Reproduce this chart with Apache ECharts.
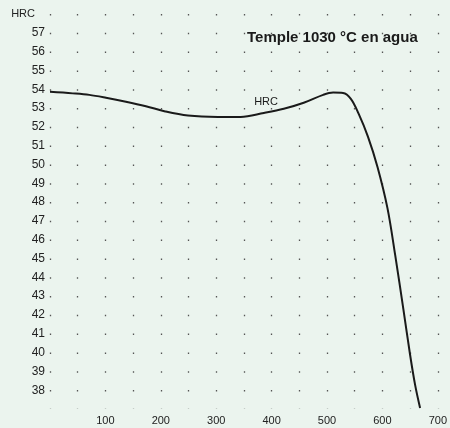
<!DOCTYPE html>
<html>
<head>
<meta charset="utf-8">
<script src="https://cdn.jsdelivr.net/npm/echarts@6/dist/echarts.min.js"></script>
<style>
html,body{margin:0;padding:0;background:#ebf4ee;}
#c{width:450px;height:428px;}
</style>
</head>
<body>
<div id="c"></div>
<script>
// Tempering temperature (°C) and hardness (HRC)
var temperatures = [0, 41, 71, 101, 137, 173, 208, 249, 303, 344, 386, 422, 458, 493, 511, 529, 543, 557, 574, 591, 609, 623, 638, 650, 659, 668];
var hardness = [53.86, 53.78, 53.7, 53.55, 53.34, 53.1, 52.82, 52.6, 52.53, 52.53, 52.74, 52.96, 53.28, 53.7, 53.82, 53.8, 53.49, 52.7, 51.47, 49.88, 47.69, 45.19, 42.27, 39.87, 38.28, 37.05];
var xTicks = [100, 200, 300, 400, 500, 600, 700];
var titleText = 'Temple 1030 °C en agua';
var seriesName = 'HRC';

var chart = echarts.init(document.getElementById('c'));
chart.setOption({
  backgroundColor: '#ebf4ee',
  animation: false,
  title: {
    text: titleText,
    left: 242, top: 25,
    textStyle: {fontFamily: 'Liberation Sans', fontWeight: 'bold', fontSize: 15, color: '#1a1a1a'}
  },
  grid: {left: 50, right: 7, top: 14, bottom: 19, containLabel: false},
  xAxis: {
    type: 'value', min: 0, max: 700, interval: 50,
    axisLine: {show: false}, axisTick: {show: false},
    axisLabel: {
      fontFamily: 'Liberation Sans', fontSize: 11, color: '#222', margin: 6,
      formatter: function (v) { return xTicks.indexOf(v) >= 0 ? String(v) : ''; }
    },
    splitLine: {show: true, lineStyle: {color: '#555', width: 1.3, type: [1.5, 17.3]}}
  },
  yAxis: {
    type: 'value', min: 37, max: 58, interval: 1,
    name: 'HRC', nameLocation: 'end', nameGap: 0,
    nameTextStyle: {fontFamily: 'Liberation Sans', fontSize: 11, color: '#222', align: 'right', verticalAlign: 'middle', padding: [0, 15, 0, 0]},
    axisLine: {show: false}, axisTick: {show: false},
    axisLabel: {
      fontFamily: 'Liberation Sans', fontSize: 12, color: '#222', margin: 5,
      formatter: function (v) { return (v === 58 || v === 37) ? '' : String(v); }
    },
    splitLine: {show: false}
  },
  series: [{
    name: seriesName,
    type: 'line',
    smooth: 0.35,
    symbol: 'none',
    data: temperatures.map(function (t, i) { return [t, hardness[i]]; }),
    lineStyle: {color: '#1a1a1a', width: 2},
    markPoint: {
      symbol: 'circle', symbolSize: 0,
      label: {show: true, position: 'inside', formatter: seriesName, fontFamily: 'Liberation Sans', fontSize: 11, color: '#1a1a1a'},
      data: [{coord: [390, 53.33]}]
    }
  }]
});
</script>
</body>
</html>
